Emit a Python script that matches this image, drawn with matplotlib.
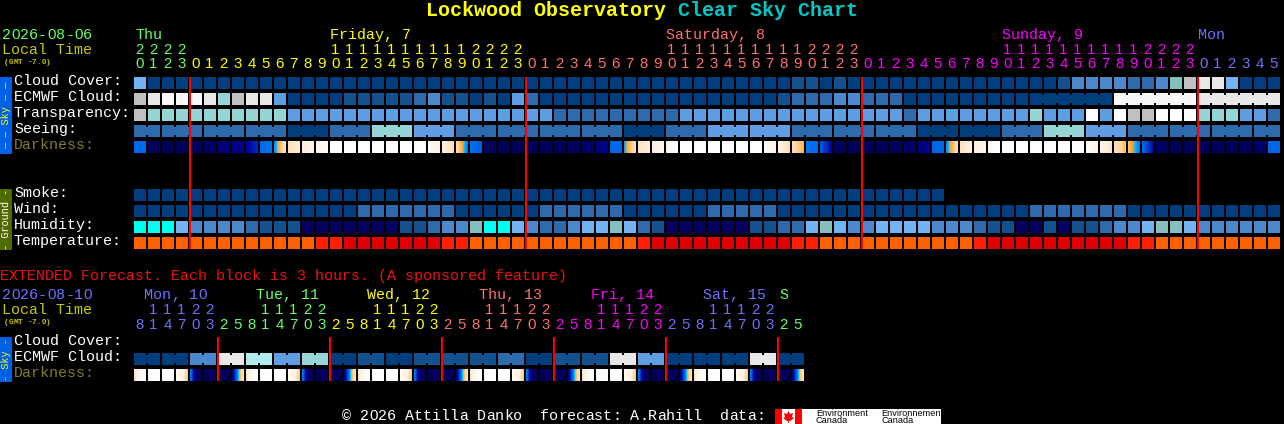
import numpy as np
import matplotlib
matplotlib.use("Agg")
import matplotlib.pyplot as plt
from matplotlib.colors import LinearSegmentedColormap
from matplotlib.patches import Rectangle, Polygon

# colours for the block levels
palette = ["#003E7E", "#13528F", "#2D6BAC", "#4C88CC", "#5F9EE2", "#74B3F2", "#84BFBF", "#96D5D5",
           "#B0ECEC", "#00FFF0", "#C0C0C0", "#E8E8E8", "#F8F8F8", "#FFFFFF", "#060060",
           "#FF6000", "#FF2000", "#E00000"]

cloud_cover = [5,0,0,0,0,0,0,0,0,0,
               0,0,0,0,0,0,0,0,0,0,
               0,0,0,0,0,0,0,0,0,0,
               0,0,0,0,0,0,0,0,0,0,
               0,0,0,0,0,0,0,1,1,0,
               1,0,0,0,0,0,0,0,0,0,
               0,0,0,0,0,0,1,3,3,3,
               3,2,2,3,6,10,11,11,5,0,
               0,0]
ecmwf_cloud = [10,11,12,12,12,11,7,10,11,11,
               4,0,0,0,0,1,1,1,1,1,
               2,3,1,1,0,1,0,4,2,0,
               0,0,0,0,0,0,0,0,0,0,
               0,0,0,0,0,0,1,2,2,2,
               3,3,2,2,2,0,0,0,0,0,
               0,0,0,0,0,0,0,0,0,0,
               12,12,12,12,12,12,11,11,11,11,
               11,11]
ecmwf_blocks = [1] * 64 + [6, 6, 6]
transparency = [10,7,7,7,7,7,7,7,7,7,
                7,4,4,4,4,4,4,4,4,4,
                4,4,4,4,4,4,4,4,4,4,
                2,2,2,2,2,2,2,2,2,4,
                4,4,4,4,4,4,4,4,4,4,
                4,4,4,4,4,2,4,4,4,4,
                4,4,4,4,7,4,4,4,13,4,
                13,10,10,13,13,13,7,7,7,4,
                4,2]
seeing_blocks = [2] + [3] * 26 + [2]
seeing_levels = [2,2,2,2,0,2,7,4,2,2,2,2,0,2,4,4,2,2,2,0,0,2,7,4,2,2,2,2]
smoke = [0] * 58
wind = [0,0,0,0,0,0,0,0,0,0,
        0,0,0,0,0,0,2,2,2,2,
        2,2,2,0,0,0,0,0,0,2,
        2,2,2,2,2,0,0,0,0,0,
        0,2,2,2,2,2,0,0,0,0,
        0,0,0,0,0,0,0,0,0,0,
        0,0,0,0,2,2,2,2,2,2,
        2,0,0,0,0,0,0,0,0,0,
        0,0]
humidity = [9,9,9,5,3,3,3,3,2,1,
            1,1,14,14,14,14,14,14,14,1,
            1,2,3,3,6,9,9,5,3,2,
            2,3,5,5,6,5,2,1,14,14,
            14,14,14,14,1,1,2,2,5,6,
            5,3,3,5,5,5,5,3,3,3,
            2,1,1,14,14,1,14,1,1,2,
            3,3,5,6,6,5,3,3,3,3,
            3,3]
temperature = [15,15,15,15,15,15,15,15,15,15,
               15,15,15,16,16,17,17,17,17,17,
               17,17,16,16,15,15,15,15,15,15,
               15,15,15,15,15,15,16,17,17,17,
               17,17,17,17,17,17,17,16,16,15,
               15,15,15,15,15,15,15,15,15,15,
               16,17,17,17,17,17,17,17,17,17,
               17,16,16,15,15,15,15,15,15,15,
               15,15]

# darkness: value at the left and right edge of each block, 0 = night, 1 = day
dark_left = [.33,.02,.02,.02,.03,.05,.08,.11,.15,.33,
             .38,.60,.68,.78,1,1,1,1,1,1,
             1,.90,.72,.56,.35,.03,.02,.02,.02,.02,
             .02,.03,.05,.08,.33,.40,.62,.70,.85,1,
             1,1,1,1,1,.95,.75,.58,.36,.30,
             .03,.02,.02,.02,.03,.05,.07,.32,.38,.62,
             .70,.85,1,1,1,1,1,1,.95,.78,
             .60,.50,.33,.04,.02,.02,.02,.02,.02,.02,
             .03,.32]
dark_right = [.33,.02,.02,.02,.03,.05,.08,.11,.22,.35,
              .60,.68,.78,.95,1,1,1,1,1,1,
              1,.72,.58,.36,.30,.03,.02,.02,.02,.02,
              .02,.03,.05,.12,.33,.60,.70,.85,1,1,
              1,1,1,1,1,.75,.58,.48,.33,.15,
              .03,.02,.02,.02,.03,.05,.14,.33,.58,.70,
              .85,1,1,1,1,1,1,1,.78,.62,
              .50,.36,.16,.03,.02,.02,.02,.02,.02,.02,
              .06,.33]

ext_ecmwf = [0,0,3,11,8,4,7,0,1,0,1,1,1,2,0,1,1,11,4,0,0,0,11,0]
# extended darkness has a sharper change inside a block, so it has a middle value as well
ext_dark_left = [.62,1,1,.95,.36,.03,.02,.10,
                 .62,1,1,.95,.36,.03,.02,.10,
                 .62,1,1,.95,.36,.03,.02,.10,
                 .62,1,1,.95,.36,.03,.02,.10,
                 .62,1,1,.95,.36,.03,.02,.10,
                 .62,1,1,.95,.36,.03,.02,.10]
ext_dark_mid = [.90,1,1,.75,.03,.02,.02,.40,
                .90,1,1,.75,.03,.02,.02,.40,
                .90,1,1,.75,.03,.02,.02,.40,
                .90,1,1,.75,.03,.02,.02,.40,
                .90,1,1,.75,.03,.02,.02,.40,
                .90,1,1,.75,.03,.02,.02,.40]
ext_dark_right = [1,1,1,.50,.03,.02,.02,.62,
                  1,1,1,.50,.03,.02,.02,.62,
                  1,1,1,.50,.03,.02,.02,.62,
                  1,1,1,.50,.03,.02,.02,.62,
                  1,1,1,.50,.03,.02,.02,.62,
                  1,1,1,.50,.03,.02,.02,.62]

# first hour and the day names of both tables
hours = [20,21,22,23] + list(range(24)) * 3 + [0,1,2,3,4,5]
ext_hours = [8,11,14,17,20,23,2,5] * 6
GREEN, YELLOW, SALMON, MAGENTA, BLUE = "#66FF66", "#FFFF00", "#FF7070", "#FF00FF", "#7070FF"
day_names = ["Thu", "Friday, 7", "Saturday, 8", "Sunday, 9", "Mon"]
day_colors = [GREEN, YELLOW, SALMON, MAGENTA, BLUE]
day_starts = [0, 4, 28, 52, 76]
day_name_x = [136, 330, 666, 1002, 1198]
ext_names = ["Mon, 10", "Tue, 11", "Wed, 12", "Thu, 13", "Fri, 14", "Sat, 15", "S"]
ext_colors = [BLUE, GREEN, YELLOW, SALMON, MAGENTA, BLUE, GREEN]
ext_starts = [-2, 6, 14, 22, 30, 38, 46]
ext_name_x = [144, 256, 367, 479, 591, 703, 779]

X0 = 134
STEP = 14
SIZE = 12
FONT = ["Liberation Mono", "DejaVu Sans Mono"]
DIGIT_FONT = "Liberation Sans"  # its zero is plain like the reference
OLIVE = "#7F7F2A"
LOCAL = "#C8C800"

dark_map = LinearSegmentedColormap.from_list("dark", [
    (0, "#000050"), (.15, "#0000A0"), (.30, "#0060E0"), (.35, "#0070F0"), (.42, "#10B8FF"),
    (.44, "#FFA020"), (.55, "#FFD8A8"), (.70, "#FFF0E0"), (1, "#FFFFFF")])

fig = plt.figure(figsize=(12.84, 4.24), dpi=100, facecolor="black")
ax = fig.add_axes([0, 0, 1, 1])
ax.set_facecolor("black")
ax.axis("off")


def label(x, y, s, color="white", size=10.8, **kw):
    kw.setdefault("va", "center")
    kw.setdefault("ha", "left")
    kw.setdefault("family", FONT)
    if "0" in s and kw["ha"] == "left":
        # the mono zero is dotted, so place char by char and swap the zeros
        adv = size * 100 / 72 * 0.6
        kw["ha"] = "center"
        for j, ch in enumerate(s):
            if ch != " ":
                kw2 = dict(kw)
                if ch == "0":
                    kw2["family"] = DIGIT_FONT
                ax.text(x + adv * (j + .5), y, ch, color=color, fontsize=size, **kw2)
        return None
    return ax.text(x, y, s, color=color, fontsize=size, **kw)


def box(x, y, w, h, color, z=2):
    ax.add_patch(Rectangle((x, y), w, h, facecolor=color, edgecolor="none", antialiased=False, snap=False, zorder=z))


def row(y, levels, blocks=None):
    # levels is per column, or per block when block sizes are given and the two lengths are equal
    if blocks is None:
        blocks = [1] * len(levels)
    col = 0
    for k, n in enumerate(blocks):
        for j in range(n):
            lev = levels[k] if len(levels) == len(blocks) else levels[col + j]
            box(X0 + STEP * (col + j), y, SIZE, SIZE, palette[lev])
            if j < n - 1:
                box(X0 + STEP * (col + j) + SIZE, y + 2, STEP - SIZE, 8, palette[lev])
        col += n


def dark_row(y, left, right, mid=None):
    for i, (l, r) in enumerate(zip(left, right)):
        m = (l + r) / 2 if mid is None else mid[i]
        vals = np.interp(np.linspace(0, 1, SIZE), [0, .5, 1], [l, m, r])
        ax.imshow(vals[None, :], extent=(X0 + STEP * i, X0 + STEP * i + SIZE, y + SIZE, y),
                  cmap=dark_map, vmin=0, vmax=1, aspect="auto", interpolation="nearest", zorder=2)


def side_tab(y0, y1, color, s, text_color):
    box(0, y0, 12, y1 - y0, color)
    label(6, (y0 + y1) / 2, s, text_color, 7.4, rotation=90, ha="center", va="center")


# title
label(426, 11, "Lockwood Observatory", YELLOW, 14.4, fontweight="bold")
label(678, 11, "Clear Sky Chart", "#00C8C8", 14.4, fontweight="bold")

# main table header
label(2, 35, "2026-08-06", GREEN)
label(2, 50, "Local Time", LOCAL)
label(4, 62, "(GMT -7.0)", LOCAL, 5.6, fontweight="bold")
for name, color, x in zip(day_names, day_colors, day_name_x):
    label(x, 35, name, color)
for i, h in enumerate(hours):
    color = day_colors[np.searchsorted(day_starts, i, side="right") - 1]
    cx = X0 + STEP * i + 5.5
    if h >= 10:
        label(cx, 50, str(h // 10), color, ha="center", family=DIGIT_FONT)
    label(cx, 64, str(h % 10), color, ha="center", family=DIGIT_FONT)

# sky rows
sky_labels = ["Cloud Cover:", "ECMWF Cloud:", "Transparency:", "Seeing:", "Darkness:"]
for k, s in enumerate(sky_labels):
    label(14, 81 + 16 * k, s, OLIVE if s.startswith("Dark") else "white")
row(77, cloud_cover)
row(93, ecmwf_cloud, ecmwf_blocks)
row(109, transparency)
row(125, seeing_levels, seeing_blocks)
dark_row(141, dark_left, dark_right)
side_tab(77, 154, "#0060E8", "\u2014 \u2014 Sky \u2014 \u2014", "#FFFF00")

# ground rows
ground_labels = ["Smoke:", "Wind:", "Humidity:", "Temperature:"]
for k, s in enumerate(ground_labels):
    label(14, 193 + 16 * k, s)
for k, levels in enumerate([smoke, wind, humidity, temperature]):
    row(189 + 16 * k, levels)
side_tab(189, 250, "#4F6B00", "- Ground -", "white")

# midnight lines of the main table
for i, h in enumerate(hours):
    if h == 0:
        box(X0 + STEP * i - 1, 77, 2, 172, "#FF0000", z=3)

# extended forecast
label(0, 276, "EXTENDED Forecast. Each block is 3 hours. (A sponsored feature)", "#F01010")
label(2, 295, "2026-08-10", BLUE)
label(2, 310, "Local Time", LOCAL)
label(4, 322, "(GMT -7.0)", LOCAL, 5.6, fontweight="bold")
for name, color, x in zip(ext_names, ext_colors, ext_name_x):
    label(x, 295, name, color)
for i, h in enumerate(ext_hours):
    color = ext_colors[np.searchsorted(ext_starts, i, side="right") - 1]
    cx = X0 + STEP * i + 5.5
    if h >= 10:
        label(cx, 310, str(h // 10), color, ha="center", family=DIGIT_FONT)
    label(cx, 325, str(h % 10), color, ha="center", family=DIGIT_FONT)
for k, s in enumerate(["Cloud Cover:", "ECMWF Cloud:", "Darkness:"]):
    label(14, 341 + 16 * k, s, OLIVE if s.startswith("Dark") else "white")
row(353, ext_ecmwf, [2] * 24)
dark_row(369, ext_dark_left, ext_dark_right, ext_dark_mid)
side_tab(337, 382, "#0060E8", "- Sky -", "#FFFF00")
for i, h in enumerate(ext_hours):
    if h == 2:
        box(X0 + STEP * i - 1, 337, 2, 44, "#FF0000", z=3)

# footer and logo
label(342, 416, "\u00a9 2026 Attilla Danko  forecast: A.Rahill  data:")
white = Rectangle((775, 409), 166, 15, facecolor="white", edgecolor="none", antialiased=False, zorder=2)
ax.add_patch(white)
box(775, 409, 7, 15, "#FF0000", z=3)
box(795, 409, 7, 15, "#FF0000", z=3)
leaf = [(788.5, 411), (790, 414), (793, 413), (792, 417), (794, 418), (790, 421), (789, 421), (789, 423),
        (788, 423), (788, 421), (787, 421), (783, 418), (785, 417), (784, 413), (787, 414)]
ax.add_patch(Polygon(leaf, closed=True, facecolor="#FF0000", edgecolor="none", zorder=3))
for x, word in [(816, "Environment"), (881, "Environnement")]:
    t = label(x, 413, word, "black", 6.6, family="Liberation Sans", zorder=4)
    t.set_clip_path(white)
    label(x, 420.5, "Canada", "black", 6.6, family="Liberation Sans", zorder=4)

ax.set_xlim(0, 1284)
ax.set_ylim(424, 0)
fig.savefig("out.png", dpi=100, facecolor="black")
